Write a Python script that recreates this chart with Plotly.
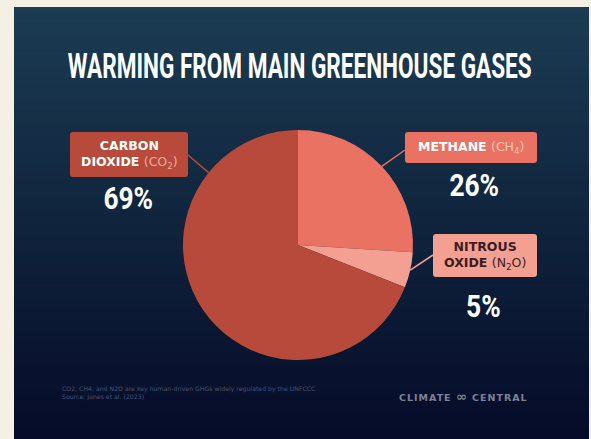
import plotly.graph_objects as go
import math

# ---- data ----
gases = ["Methane", "Nitrous oxide", "Carbon dioxide"]
shares = [26, 5, 69]
slice_colors = ["#e97262", "#f3a093", "#b84a3c"]
pct_labels = ["26%", "5%", "69%"]

W, H = 591, 439
BEIGE = "#f4f0e3"


def fx(x):
    return x / W


def fy(y):
    return 1 - y / H


# pie placement (pixels)
CX, CY, R = 298, 245, 115

fig = go.Figure()
fig.add_trace(go.Pie(
    labels=gases,
    values=shares,
    sort=False,
    direction="clockwise",
    rotation=0,
    marker=dict(colors=slice_colors, line=dict(width=0)),
    textinfo="none",
    hoverinfo="label+percent",
    showlegend=False,
    domain=dict(x=[fx(CX - R), fx(CX + R)], y=[fy(CY + R), fy(CY - R)]),
))

shapes = []

# dark panel with a vertical gradient
top_rgb = (27, 60, 82)
bot_rgb = (5, 11, 40)
px0, px1, py0, py1 = 14, 589, 7, 439
n = 80
for i in range(n):
    t = i / (n - 1)
    c = tuple(round(a + (b - a) * t) for a, b in zip(top_rgb, bot_rgb))
    y0 = py0 + (py1 - py0) * i / n
    y1 = py0 + (py1 - py0) * (i + 1) / n + 1
    shapes.append(dict(type="rect", xref="paper", yref="paper",
                       x0=fx(px0), x1=fx(px1), y0=fy(y1), y1=fy(y0),
                       fillcolor="rgb(%d,%d,%d)" % c, line=dict(width=0),
                       layer="below"))


def rounded_box(x0, y0, x1, y1, color, r=3):
    p = (f"M {fx(x0 + r)},{fy(y0)} L {fx(x1 - r)},{fy(y0)} "
         f"Q {fx(x1)},{fy(y0)} {fx(x1)},{fy(y0 + r)} L {fx(x1)},{fy(y1 - r)} "
         f"Q {fx(x1)},{fy(y1)} {fx(x1 - r)},{fy(y1)} L {fx(x0 + r)},{fy(y1)} "
         f"Q {fx(x0)},{fy(y1)} {fx(x0)},{fy(y1 - r)} L {fx(x0)},{fy(y0 + r)} "
         f"Q {fx(x0)},{fy(y0)} {fx(x0 + r)},{fy(y0)} Z")
    return dict(type="path", xref="paper", yref="paper", path=p,
                fillcolor=color, line=dict(width=0), layer="above")


def edge_point(angle_deg):
    a = math.radians(angle_deg)
    return CX + R * math.sin(a), CY - R * math.cos(a)


# mid angles of each slice (clockwise from 12 o'clock)
total = sum(shares)
mids = []
acc = 0
for v in shares:
    mids.append((acc + v / 2) / total * 360)
    acc += v

# label boxes and leader lines
boxes = {
    "Methane": (405, 132, 537, 163),
    "Nitrous oxide": (433, 234, 537, 277),
    "Carbon dioxide": (70, 132, 188, 177),
}
leader_angles = {"Methane": mids[0], "Nitrous oxide": mids[1], "Carbon dioxide": 309}
leader_ends = {"Methane": (405, 150), "Nitrous oxide": (433, 255), "Carbon dioxide": (188, 155)}

for g, col in zip(gases, slice_colors):
    ex, ey = edge_point(leader_angles[g])
    bx, by = leader_ends[g]
    shapes.append(dict(type="line", xref="paper", yref="paper",
                       x0=fx(ex), y0=fy(ey), x1=fx(bx), y1=fy(by),
                       line=dict(color=col, width=1.5), layer="above"))
    shapes.append(rounded_box(*boxes[g], col))

annotations = []
squeeze = {}  # annotation index -> horizontal scale

HEAD_FAMILY = "Roboto, DejaVu Sans, sans-serif"

squeeze[len(annotations)] = 0.645
annotations.append(dict(
    text="WARMING FROM MAIN GREENHOUSE GASES",
    x=fx(300), y=fy(67), xref="paper", yref="paper", showarrow=False,
    xanchor="center", yanchor="middle",
    font=dict(family=HEAD_FAMILY, size=35, color="white", weight="bold"),
))

box_font = dict(family="DejaVu Sans", size=12.5, weight="bold")
annotations.append(dict(
    text="CARBON<br>DIOXIDE <span style='font-weight:normal;color:#f0a99f'>(CO<sub>2</sub>)</span>",
    x=fx(129), y=fy(154.5), xref="paper", yref="paper", showarrow=False,
    xanchor="center", yanchor="middle", align="center",
    font=dict(**box_font, color="white"),
))
annotations.append(dict(
    text="METHANE <span style='font-weight:normal;color:#fbc4bb'>(CH<sub>4</sub>)</span>",
    x=fx(471), y=fy(147.5), xref="paper", yref="paper", showarrow=False,
    xanchor="center", yanchor="middle",
    font=dict(**box_font, color="white"),
))
annotations.append(dict(
    text="NITROUS<br>OXIDE <span style='font-weight:normal'>(N<sub>2</sub>O)</span>",
    x=fx(485), y=fy(255.5), xref="paper", yref="paper", showarrow=False,
    xanchor="center", yanchor="middle", align="center",
    font=dict(**box_font, color="#3b1c22"),
))

pct_pos = {"Methane": (474, 185), "Nitrous oxide": (483, 306), "Carbon dioxide": (128, 198)}
for g, t in zip(gases, pct_labels):
    x, y = pct_pos[g]
    squeeze[len(annotations)] = 0.85
    annotations.append(dict(
        text=t, x=fx(x), y=fy(y),
        xref="paper", yref="paper", showarrow=False,
        xanchor="center", yanchor="middle",
        font=dict(family=HEAD_FAMILY, size=31, color="white", weight="bold"),
    ))

annotations.append(dict(
    text="CO2, CH4, and N2O are key human-driven GHGs widely regulated by the UNFCCC<br>Source: Jones et al. (2023)",
    x=fx(60), y=fy(393), xref="paper", yref="paper", showarrow=False,
    xanchor="left", yanchor="middle", align="left",
    font=dict(family="DejaVu Sans", size=6.2, color="#4a5372"),
))
annotations.append(dict(
    text="<span style='letter-spacing:1px'>CLIMATE <span style='font-size:13px'>∞</span> CENTRAL</span>",
    x=fx(463), y=fy(396), xref="paper", yref="paper", showarrow=False,
    xanchor="center", yanchor="middle",
    font=dict(family="DejaVu Sans", size=9.5, color="#7c8197", weight="bold"),
))

fig.update_layout(
    width=W, height=H,
    margin=dict(l=0, r=0, t=0, b=0),
    paper_bgcolor=BEIGE,
    plot_bgcolor=BEIGE,
    shapes=shapes,
    annotations=annotations,
)

# narrow the headline and the percentages in place (condensed display lettering)
squeeze_js = "{" + ",".join(f'"{k}":{v}' for k, v in squeeze.items()) + "}"
post = """
var gd = document.getElementById('{plot_id}');
var sq = %s;
gd.querySelectorAll('g.annotation').forEach(function(g) {
  var k = g.getAttribute('data-index');
  if (sq[k] === undefined) return;
  var t = g.querySelector('text.annotation-text');
  if (!t) return;
  t.style.transformBox = 'fill-box';
  t.style.transformOrigin = 'center';
  t.style.transform = 'scaleX(' + sq[k] + ')';
});
""" % squeeze_js

fig.write_html("out.html", post_script=post)
